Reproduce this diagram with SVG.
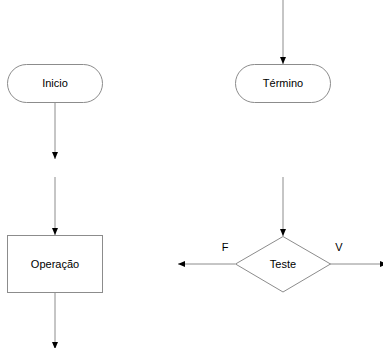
<svg xmlns="http://www.w3.org/2000/svg" width="383" height="348" viewBox="0 0 383 348">
<defs>
<style>
.shape{fill:#fff;stroke:#8c8c8c;stroke-width:1}
.conn{stroke:#8c8c8c;stroke-width:1;fill:none}
text{font-family:"Liberation Sans",Arial,sans-serif;font-size:11px;fill:#000}
</style>
<marker id="ah" viewBox="0 0 8 8" refX="8" refY="4" markerWidth="8" markerHeight="8" markerUnits="userSpaceOnUse" orient="auto">
<path d="M1,1 L8,4 L1,7 Z" fill="#000"/>
</marker>
</defs>
<rect width="383" height="348" fill="#fff"/>
<g id="connectors">
<line class="conn" x1="55" y1="102" x2="55" y2="159" marker-end="url(#ah)"/>
<line class="conn" x1="283" y1="0" x2="283" y2="64" marker-end="url(#ah)"/>
<line class="conn" x1="55" y1="177" x2="55" y2="235" marker-end="url(#ah)"/>
<line class="conn" x1="55" y1="292" x2="55" y2="349" marker-end="url(#ah)"/>
<line class="conn" x1="283" y1="177" x2="283" y2="236" marker-end="url(#ah)"/>
<line class="conn" x1="235" y1="264" x2="178" y2="264" marker-end="url(#ah)"/>
<line class="conn" x1="330" y1="264" x2="387" y2="264" marker-end="url(#ah)"/>
<text x="225" y="251" text-anchor="middle">F</text>
<text x="339" y="251" text-anchor="middle">V</text>
</g>
<g id="inicio">
<rect class="shape" x="7.5" y="64.5" width="95" height="38" rx="19" ry="19"/>
<text x="55" y="87" text-anchor="middle">Inicio</text>
</g>
<g id="termino">
<rect class="shape" x="235.5" y="64.5" width="95" height="38" rx="19" ry="19"/>
<text x="283" y="87" text-anchor="middle">Término</text>
</g>
<g id="operacao">
<rect class="shape" x="7.5" y="235.5" width="95" height="57"/>
<text x="55" y="268" text-anchor="middle">Operação</text>
</g>
<g id="teste">
<polygon class="shape" points="283,236.5 330.5,264 283,292 235.5,264"/>
<text x="283" y="268" text-anchor="middle">Teste</text>
</g>
</svg>
